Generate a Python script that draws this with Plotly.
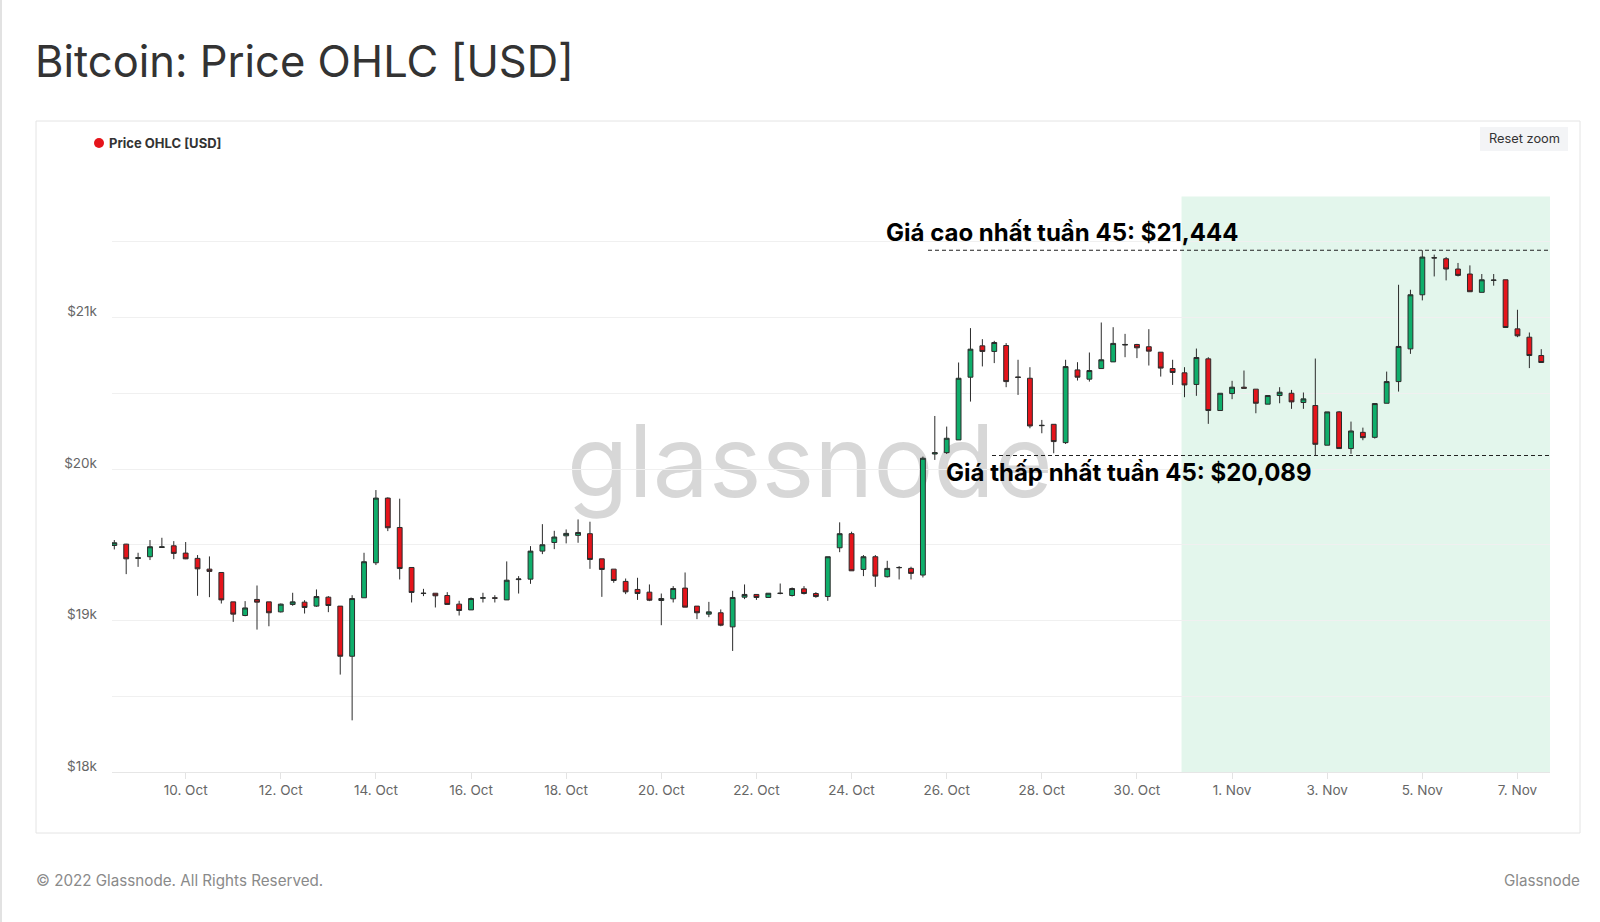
import pandas as pd
import plotly.graph_objects as go

# ---------------- data (6-hour candles, BTC/USD) ----------------
start_time = "2022-10-08 12:00"
n_candles = 121
times = pd.date_range(start_time, periods=n_candles, freq="6h")

open_ = [19495, 19504, 19410, 19421, 19482, 19493, 19445, 19410, 19339, 19317,
         19123, 19033, 19139, 19123, 19057, 19106, 19121, 19095, 19154, 19095,
         18764, 19150, 19381, 19808, 19614, 19350, 19178, 19180, 19165, 19108,
         19070, 19147, 19150, 19136, 19270, 19273, 19458, 19515, 19559, 19562,
         19573, 19407, 19339, 19258, 19205, 19187, 19132, 19143, 19214, 19095,
         19042, 19051, 18958, 19154, 19172, 19152, 19178, 19165, 19209, 19178,
         19158, 19480, 19573, 19337, 19421, 19289, 19348, 19344, 19300, 20099,
         20108, 20192, 20606, 20813, 20776, 20815, 20608, 20599, 20286, 20295,
         20174, 20654, 20593, 20663, 20707, 20818, 20822, 20807, 20771, 20663,
         20635, 20558, 20727, 20386, 20498, 20540, 20527, 20428, 20485, 20500,
         20439, 20419, 20157, 20377, 20135, 20242, 20209, 20434, 20577, 20793,
         21150, 21395, 21388, 21320, 21287, 21166, 21245, 21249, 20925, 20870,
         20749]
high = [19531, 19506, 19447, 19531, 19546, 19524, 19518, 19432, 19423, 19317,
        19123, 19128, 19231, 19123, 19112, 19183, 19134, 19205, 19161, 19095,
        19167, 19447, 19861, 19813, 19804, 19350, 19209, 19180, 19187, 19130,
        19152, 19183, 19167, 19390, 19293, 19491, 19636, 19592, 19601, 19667,
        19652, 19407, 19339, 19277, 19282, 19238, 19178, 19227, 19317, 19095,
        19123, 19073, 19196, 19238, 19172, 19180, 19244, 19218, 19227, 19187,
        19421, 19648, 19586, 19432, 19432, 19394, 19359, 19355, 20082, 20350,
        20280, 20703, 20930, 20857, 20846, 20831, 20721, 20672, 20324, 20295,
        20721, 20705, 20769, 20967, 20936, 20892, 20826, 20923, 20771, 20721,
        20672, 20795, 20738, 20500, 20582, 20650, 20527, 20485, 20540, 20522,
        20505, 20729, 20377, 20383, 20313, 20273, 20432, 20643, 21216, 21183,
        21444, 21415, 21399, 21360, 21344, 21287, 21287, 21249, 21051, 20901,
        20791]
low = [19469, 19306, 19354, 19399, 19480, 19405, 19405, 19163, 19154, 19112,
       18991, 19028, 18940, 18962, 19053, 19097, 19046, 19090, 19055, 18643,
       18341, 19150, 19366, 19590, 19271, 19119, 19161, 19086, 19106, 19033,
       19070, 19119, 19119, 19136, 19178, 19242, 19438, 19471, 19509, 19513,
       19341, 19156, 19249, 19174, 19136, 19128, 18969, 19119, 19088, 19009,
       19022, 18962, 18799, 19141, 19136, 19152, 19173, 19158, 19172, 19150,
       19130, 19451, 19328, 19293, 19222, 19284, 19271, 19271, 19284, 20060,
       20099, 20192, 20445, 20677, 20699, 20540, 20489, 20269, 20236, 20104,
       20165, 20584, 20577, 20663, 20707, 20738, 20732, 20683, 20610, 20555,
       20474, 20483, 20298, 20386, 20461, 20533, 20368, 20428, 20434, 20397,
       20397, 20089, 20157, 20135, 20100, 20190, 20201, 20434, 20511, 20760,
       21113, 21271, 21245, 21271, 21170, 21166, 21210, 20934, 20870, 20666,
       20703]
close = [19513, 19407, 19414, 19487, 19486, 19443, 19407, 19341, 19324, 19136,
         19042, 19083, 19121, 19051, 19108, 19123, 19086, 19158, 19099, 18764,
         19145, 19388, 19808, 19612, 19343, 19185, 19180, 19163, 19106, 19066,
         19145, 19150, 19147, 19266, 19274, 19458, 19500, 19551, 19575, 19581,
         19403, 19337, 19264, 19189, 19178, 19134, 19145, 19211, 19088, 19051,
         19057, 18969, 19152, 19172, 19152, 19180, 19180, 19211, 19178, 19158,
         19421, 19573, 19328, 19421, 19293, 19344, 19350, 19311, 20071, 20108,
         20203, 20599, 20791, 20776, 20835, 20577, 20604, 20284, 20288, 20181,
         20676, 20606, 20650, 20721, 20829, 20822, 20800, 20778, 20666, 20637,
         20555, 20736, 20386, 20500, 20540, 20533, 20434, 20485, 20507, 20443,
         20463, 20163, 20377, 20135, 20251, 20207, 20432, 20577, 20809, 21150,
         21399, 21393, 21320, 21278, 21170, 21249, 21247, 20934, 20879, 20749,
         20703]

week_high = 21444
week_low = 20089
week_band_start = "2022-10-30 22:30"
week_band_top = 21798

x_tick_dates = ["2022-10-10", "2022-10-12", "2022-10-14", "2022-10-16", "2022-10-18",
                "2022-10-20", "2022-10-22", "2022-10-24", "2022-10-26", "2022-10-28",
                "2022-10-30", "2022-11-01", "2022-11-03", "2022-11-05", "2022-11-07"]
x_tick_labels = ["10. Oct", "12. Oct", "14. Oct", "16. Oct", "18. Oct",
                 "20. Oct", "22. Oct", "24. Oct", "26. Oct", "28. Oct",
                 "30. Oct", "1. Nov", "3. Nov", "5. Nov", "7. Nov"]
y_tick_vals = [18000, 18500, 19000, 19500, 20000, 20500, 21000, 21500, 22000]
y_tick_labels = ["$18k", "", "$19k", "", "$20k", "", "$21k", "", ""]

title_text = "Bitcoin: Price OHLC [USD]"
series_name = "Price OHLC [USD]"
high_label = "Giá cao nhất tuần 45: $21,444"
low_label = "Giá thấp nhất tuần 45: $20,089"
footer_left = "© 2022 Glassnode. All Rights Reserved."
footer_right = "Glassnode"
watermark = "glassnode"

# ---------------- styling / layout ----------------
W, H = 1600, 922
PL, PR, PT, PB = 112, 1550, 166, 772
GREEN = "#0fae6b"
RED = "#e5141b"
OUTLINE = "#2b2b2b"
FONT = "Inter"


def px(x):
    return (x - PL) / (PR - PL)


def py(y):
    return (PB - y) / (PB - PT)


x_range = ["2022-10-08 10:50", "2022-11-07 16:25"]

fig = go.Figure()
fig.add_trace(go.Candlestick(
    x=times, open=open_, high=high, low=low, close=close,
    name=series_name,
    increasing=dict(fillcolor=GREEN, line=dict(color=OUTLINE, width=1)),
    decreasing=dict(fillcolor=RED, line=dict(color=OUTLINE, width=1)),
    whiskerwidth=0, showlegend=False, hoverinfo="skip",
))

shapes = [
    # chart container border
    dict(type="rect", xref="paper", yref="paper", x0=px(36), x1=px(1580),
         y0=py(833), y1=py(121), line=dict(color="#e4e4e4", width=1),
         fillcolor="rgba(0,0,0,0)", layer="below"),
    # page left edge
    dict(type="line", xref="paper", yref="paper", x0=px(1), x1=px(1),
         y0=py(922), y1=py(0), line=dict(color="#e2e2e2", width=2), layer="below"),
    # week 45 band
    dict(type="rect", xref="x", yref="y", x0=week_band_start, x1=x_range[1],
         y0=18000, y1=week_band_top, fillcolor="#e3f6ec", line=dict(width=0),
         layer="below"),
    # watermark
    dict(type="rect", xref="paper", yref="paper", x0=px(540), x1=px(1080),
         y0=py(522), y1=py(392), line=dict(width=0), fillcolor="rgba(0,0,0,0)",
         layer="between",
         label=dict(text=watermark, textposition="middle center",
                    font=dict(family=FONT, size=100, color="rgba(150,150,150,0.38)"))),
    # high / low dashed lines
    dict(type="line", xref="paper", yref="y", x0=px(928), x1=1, y0=week_high,
         y1=week_high, line=dict(color="#222", width=1.2, dash="4px,3px"), layer="above"),
    dict(type="line", xref="paper", yref="y", x0=px(992), x1=1, y0=week_low,
         y1=week_low, line=dict(color="#222", width=1.2, dash="4px,3px"), layer="above"),
    # legend dot
    dict(type="circle", xref="paper", yref="paper", x0=px(94), x1=px(104),
         y0=py(148), y1=py(138), fillcolor=RED, line=dict(width=0)),
    # reset zoom button bg
    dict(type="rect", xref="paper", yref="paper", x0=px(1480), x1=px(1568),
         y0=py(151), y1=py(127), fillcolor="#f3f4f6", line=dict(width=0)),
]

annotations = [
    dict(text=title_text, xref="paper", yref="paper", x=px(33), y=py(61),
         xanchor="left", yanchor="middle", showarrow=False,
         font=dict(family=FONT, size=43.5, color="#333")),
    dict(text="<b>" + series_name + "</b>", xref="paper", yref="paper", x=px(107), y=py(143),
         xanchor="left", yanchor="middle", showarrow=False,
         font=dict(family=FONT, size=13, color="#333")),
    dict(text="Reset zoom", xref="paper", yref="paper", x=px(1524), y=py(139),
         xanchor="center", yanchor="middle", showarrow=False,
         font=dict(family=FONT, size=12.8, color="#333")),
    dict(text="<b>" + high_label + "</b>", xref="paper", yref="paper", x=px(884), y=py(233),
         xanchor="left", yanchor="middle", showarrow=False,
         font=dict(family=FONT, size=24, color="#000")),
    dict(text="<b>" + low_label + "</b>", xref="paper", yref="paper", x=px(944), y=py(472),
         xanchor="left", yanchor="middle", showarrow=False,
         font=dict(family=FONT, size=24, color="#000")),
    dict(text=footer_left, xref="paper", yref="paper", x=px(34), y=py(880),
         xanchor="left", yanchor="middle", showarrow=False,
         font=dict(family=FONT, size=15.2, color="#8a8a8a")),
    dict(text=footer_right, xref="paper", yref="paper", x=px(1582), y=py(880),
         xanchor="right", yanchor="middle", showarrow=False,
         font=dict(family=FONT, size=15.2, color="#8a8a8a")),
]

fig.update_layout(
    width=W, height=H, autosize=False,
    margin=dict(l=PL, r=W - PR, t=PT, b=H - PB, pad=0),
    paper_bgcolor="white", plot_bgcolor="white",
    boxgap=0.42,
    font=dict(family=FONT, color="#666"),
    shapes=shapes, annotations=annotations,
    hovermode=False,
    xaxis=dict(type="date", range=x_range, rangeslider=dict(visible=False),
               tickvals=x_tick_dates, ticktext=x_tick_labels,
               ticks="outside", ticklen=6, tickcolor="#e3e3e3",
               showgrid=False, showline=True, linecolor="#e6e6e6",
               tickfont=dict(family=FONT, size=13.5, color="#666"), fixedrange=True),
    yaxis=dict(range=[18000, 22000], tickvals=y_tick_vals, ticktext=y_tick_labels,
               showgrid=True, gridcolor="#f0f0f0", zeroline=False, showline=False,
               ticks="", ticklabelstandoff=14, ticklabelshift=-6,
               tickfont=dict(family=FONT, size=13.5, color="#666"), fixedrange=True),
)

fig.write_html("out.html", config={"displayModeBar": False},
               post_script="document.body.style.margin='0';document.body.style.overflow='hidden';")
